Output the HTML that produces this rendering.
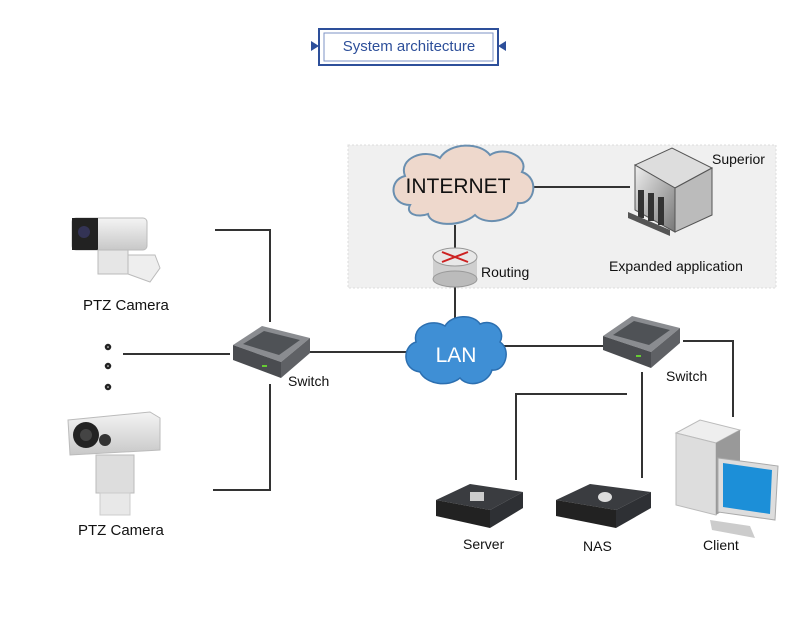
<!DOCTYPE html>
<html><head><meta charset="utf-8"><style>
html,body{margin:0;padding:0;background:#fff}
body{width:800px;height:612px;position:relative;overflow:hidden;font-family:"Liberation Sans",sans-serif}
</style></head><body>
<svg width="800" height="612" viewBox="0 0 800 612" xmlns="http://www.w3.org/2000/svg" font-family="Liberation Sans, sans-serif">
<defs>
<linearGradient id="cam" x1="0" y1="0" x2="0" y2="1"><stop offset="0" stop-color="#f4f4f4"/><stop offset="1" stop-color="#c8c8c8"/></linearGradient>
<linearGradient id="bld" x1="0" y1="0" x2="1" y2="1"><stop offset="0" stop-color="#eee"/><stop offset="1" stop-color="#777"/></linearGradient>
</defs>
<!-- title -->
<rect x="319" y="29" width="179" height="36" fill="none" stroke="#2d4f9a" stroke-width="2"/>
<rect x="324" y="33" width="169" height="28" fill="none" stroke="#7d93c6" stroke-width="1"/>
<polygon points="311,41 319,46 311,51" fill="#2d4f9a"/>
<polygon points="506,41 498,46 506,51" fill="#2d4f9a"/>
<text x="409" y="51" font-size="15" fill="#2d4f9a" text-anchor="middle">System architecture</text>
<!-- grey area -->
<rect x="348" y="145" width="428" height="143" fill="#f0f0f0" stroke="#dcdcdc" stroke-dasharray="2,2"/>
<!-- lines -->
<g stroke="#333" stroke-width="2" fill="none">
<polyline points="215,230 270,230 270,322"/>
<polyline points="270,384 270,490 213,490"/>
<line x1="123" y1="354" x2="230" y2="354"/>
<line x1="310" y1="352" x2="410" y2="352"/>
<line x1="500" y1="346" x2="603" y2="346"/>
<polyline points="683,341 733,341 733,417"/>
<line x1="642" y1="372" x2="642" y2="478"/>
<polyline points="627,394 516,394 516,480"/>
<line x1="455" y1="225" x2="455" y2="250"/>
<line x1="455" y1="285" x2="455" y2="322"/>
<line x1="533" y1="187" x2="630" y2="187"/>
</g>
<!-- dots -->
<g fill="#fff" stroke="#222" stroke-width="2.5"><circle cx="108" cy="347" r="2"/><circle cx="108" cy="366" r="2"/><circle cx="108" cy="387" r="2"/></g>
<!-- internet cloud -->
<path d="M410,205 C390,205 388,180 405,176 C398,158 425,148 440,158 C450,142 480,142 490,155 C505,145 530,158 522,172 C540,178 535,205 518,203 C515,222 485,226 475,215 C460,228 430,226 428,214 C418,218 405,214 410,205 Z" fill="#eed8cc" stroke="#6a8fb0" stroke-width="2"/>
<text x="458" y="193" font-size="21" fill="#111" text-anchor="middle">INTERNET</text>
<!-- LAN cloud -->
<path d="M420,372 C402,370 402,346 416,342 C412,326 432,318 445,326 C452,314 474,314 480,324 C494,318 506,332 500,342 C512,350 505,372 492,370 C488,384 468,388 460,378 C448,388 426,384 420,372 Z" fill="#3f8fd5" stroke="#2c6fb0" stroke-width="1.5"/>
<text x="456" y="362" font-size="21" fill="#fff" text-anchor="middle">LAN</text>
<!-- router -->
<rect x="433" y="257" width="44" height="22" fill="#cfcfcf"/>
<ellipse cx="455" cy="279" rx="22" ry="8" fill="#bbb" stroke="#999"/>
<ellipse cx="455" cy="257" rx="22" ry="9" fill="#e8e8e8" stroke="#999"/>
<g stroke="#c22" stroke-width="2"><line x1="442" y1="252" x2="468" y2="262"/><line x1="442" y1="262" x2="468" y2="252"/></g>
<text x="481" y="277" font-size="14" fill="#111">Routing</text>
<!-- superior building -->
<polygon points="635,165 672,148 712,168 675,188" fill="#ddd" stroke="#555"/>
<polygon points="675,188 712,168 712,215 675,232" fill="#bbb" stroke="#555"/>
<polygon points="635,165 675,188 675,232 635,210" fill="url(#bld)" stroke="#555"/>
<g fill="#333"><rect x="638" y="190" width="6" height="28"/><rect x="648" y="193" width="6" height="28"/><rect x="658" y="197" width="6" height="28"/></g>
<polygon points="628,212 670,230 670,236 628,218" fill="#555"/>
<text x="712" y="164" font-size="14" fill="#111">Superior</text>
<text x="609" y="271" font-size="14" fill="#111">Expanded application</text>
<!-- switch 1 -->
<g>
<polygon points="233,345 262,326 310,338 281,362" fill="#8a8c90"/>
<polygon points="243,344 264,331 300,340 279,355" fill="#4f5256"/>
<polygon points="233,345 281,362 281,378 233,360" fill="#4a4c50"/>
<polygon points="281,362 310,338 310,353 281,378" fill="#5f6165"/>
<rect x="262" y="365" width="5" height="2" fill="#6c3"/>
<text x="288" y="386" font-size="14" fill="#111">Switch</text>
</g>
<!-- switch 2 -->
<g>
<polygon points="603,336 632,316 680,328 651,352" fill="#8a8c90"/>
<polygon points="613,335 634,321 670,330 649,345" fill="#4f5256"/>
<polygon points="603,336 651,352 651,368 603,350" fill="#4a4c50"/>
<polygon points="651,352 680,328 680,343 651,368" fill="#5f6165"/>
<rect x="636" y="355" width="5" height="2" fill="#6c3"/>
<text x="666" y="381" font-size="14" fill="#111">Switch</text>
</g>
<!-- server -->
<polygon points="436,500 470,484 523,492 490,510" fill="#3a3c40"/>
<polygon points="436,500 490,510 490,528 436,516" fill="#222"/>
<polygon points="490,510 523,492 523,508 490,528" fill="#2e3034"/>
<rect x="470" y="492" width="14" height="9" fill="#ccc"/>
<text x="463" y="549" font-size="14" fill="#111">Server</text>
<!-- NAS -->
<polygon points="556,500 590,484 651,492 616,510" fill="#3a3c40"/>
<polygon points="556,500 616,510 616,528 556,516" fill="#222"/>
<polygon points="616,510 651,492 651,508 616,528" fill="#2e3034"/>
<ellipse cx="605" cy="497" rx="7" ry="5" fill="#ddd"/>
<text x="583" y="551" font-size="14" fill="#111">NAS</text>
<!-- client -->
<polygon points="676,433 700,420 740,430 716,443" fill="#eee" stroke="#bbb"/>
<polygon points="676,433 716,443 716,515 676,505" fill="#ddd" stroke="#bbb"/>
<polygon points="716,443 740,430 740,500 716,515" fill="#999"/>
<polygon points="718,458 778,466 775,520 718,512" fill="#ddd" stroke="#aaa"/>
<polygon points="723,463 772,470 770,514 723,507" fill="#1c8fd8"/>
<polygon points="710,520 750,526 755,538 712,530" fill="#ccc"/>
<text x="703" y="550" font-size="14" fill="#111">Client</text>
<!-- cameras -->
<g>
<rect x="72" y="218" width="75" height="32" rx="4" fill="url(#cam)" stroke="#bbb"/>
<rect x="72" y="218" width="26" height="32" fill="#222"/>
<circle cx="84" cy="232" r="6" fill="#335"/>
<rect x="98" y="250" width="30" height="24" fill="#e6e6e6" stroke="#bbb"/>
<path d="M128,255 L155,255 L160,268 L150,282 L128,274 Z" fill="#eee" stroke="#bbb"/>
<text x="83" y="310" font-size="15" fill="#111">PTZ Camera</text>
</g>
<g>
<polygon points="68,420 150,412 160,418 160,450 70,455" fill="url(#cam)" stroke="#bbb"/>
<circle cx="86" cy="435" r="13" fill="#222"/>
<circle cx="86" cy="435" r="6" fill="#444"/>
<circle cx="105" cy="440" r="6" fill="#333"/>
<rect x="96" y="455" width="38" height="38" fill="#ddd" stroke="#bbb"/>
<rect x="100" y="493" width="30" height="22" fill="#e8e8e8" stroke="#ccc"/>
<text x="78" y="535" font-size="15" fill="#111">PTZ Camera</text>
</g>
</svg>
</body></html>
